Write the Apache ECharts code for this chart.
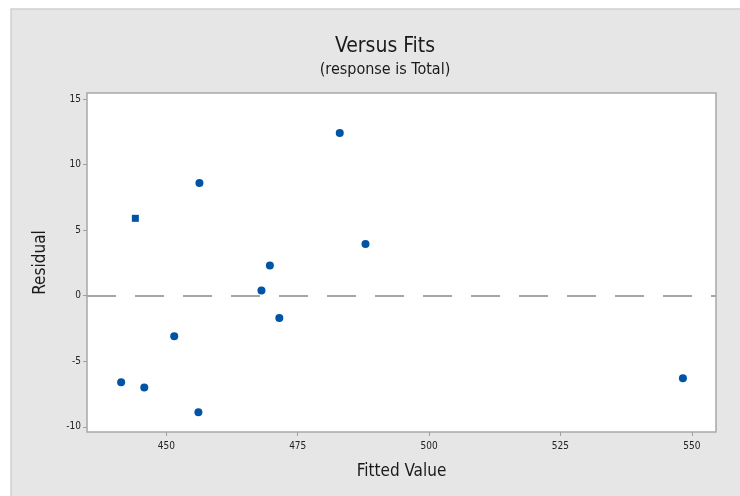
<!DOCTYPE html>
<html>
<head>
<meta charset="utf-8">
<script src="https://cdn.jsdelivr.net/npm/echarts@6/dist/echarts.min.js"></script>
<style>
html,body{margin:0;padding:0;background:#ffffff;}
#chart{width:740px;height:496px;}
</style>
</head>
<body>
<div id="chart"></div>
<script>
// Data
const circleFits      = [441.4, 445.8, 451.5, 456.3, 456.1, 468.1, 469.7, 471.5, 483.0, 487.9, 548.3];
const circleResiduals = [-6.6, -7.0, -3.1, 8.6, -8.9, 0.4, 2.3, -1.7, 12.4, 3.95, -6.3];
const squareFits      = [444.1];
const squareResiduals = [5.9];
const xTicks = [450, 475, 500, 525, 550];
const yTicks = [-10, -5, 0, 5, 10, 15];
const titleText = 'Versus Fits';
const subtitleText = '(response is Total)';
const xName = 'Fitted Value';
const yName = 'Residual';

const FONT = '"Liberation Sans Narrow", "DejaVu Sans Condensed", "Open Sans", sans-serif';
const chart = echarts.init(document.getElementById('chart'), null, {renderer: 'canvas'});

const option = {
  backgroundColor: '#ffffff',
  animation: false,
  graphic: [{
    type: 'rect', z: -10, silent: true,
    shape: {x: 11, y: 9, width: 735, height: 495},
    style: {fill: '#e6e6e6', stroke: '#cfcfcf', lineWidth: 1.5}
  }],
  title: {
    text: titleText,
    subtext: subtitleText,
    left: 380, top: 31, textAlign: 'center',
    itemGap: 5,
    textStyle: {fontFamily: FONT, fontSize: 21, fontWeight: 'normal', color: '#1a1a1a'},
    subtextStyle: {fontFamily: FONT, fontSize: 16, color: '#1a1a1a'}
  },
  grid: {
    left: 87, top: 93, right: 24, bottom: 64,
    show: true, backgroundColor: '#ffffff', borderColor: '#a8a8a8', borderWidth: 1.5
  },
  xAxis: {
    type: 'value', min: 434.9, max: 554.6,
    name: xName, nameLocation: 'middle', nameGap: 31,
    nameTextStyle: {fontFamily: FONT, fontSize: 17, color: '#1a1a1a'},
    axisLine: {show: false, onZero: false},
    splitLine: {show: false},
    axisTick: {show: true, customValues: xTicks, length: 4, lineStyle: {color: '#a0a0a0', width: 1}},
    axisLabel: {customValues: xTicks, fontFamily: FONT, fontSize: 10, color: '#222222', margin: 9}
  },
  yAxis: {
    type: 'value', min: -10.4, max: 15.46,
    name: yName, nameLocation: 'middle', nameGap: 38, nameRotate: 90,
    nameTextStyle: {fontFamily: FONT, fontSize: 17, color: '#1a1a1a'},
    axisLine: {show: false, onZero: false},
    splitLine: {show: false},
    axisTick: {show: true, customValues: yTicks, length: 4, lineStyle: {color: '#a0a0a0', width: 1}},
    axisLabel: {customValues: yTicks, fontFamily: FONT, fontSize: 10, color: '#222222', margin: 6}
  },
  series: [
    {
      type: 'scatter', name: 'fits',
      data: circleFits.map((v, i) => [v, circleResiduals[i]]),
      symbol: 'circle', symbolSize: 8,
      itemStyle: {color: '#0054a6', opacity: 1},
      markLine: {
        silent: true, symbol: 'none', label: {show: false},
        lineStyle: {color: '#a6a6a6', width: 2, type: [29, 19]},
        data: [{yAxis: 0}]
      }
    },
    {
      type: 'scatter', name: 'flagged',
      data: squareFits.map((v, i) => [v, squareResiduals[i]]),
      symbol: 'rect', symbolSize: 7,
      itemStyle: {color: '#0054a6', opacity: 1}
    }
  ]
};
chart.setOption(option);
</script>
</body>
</html>
